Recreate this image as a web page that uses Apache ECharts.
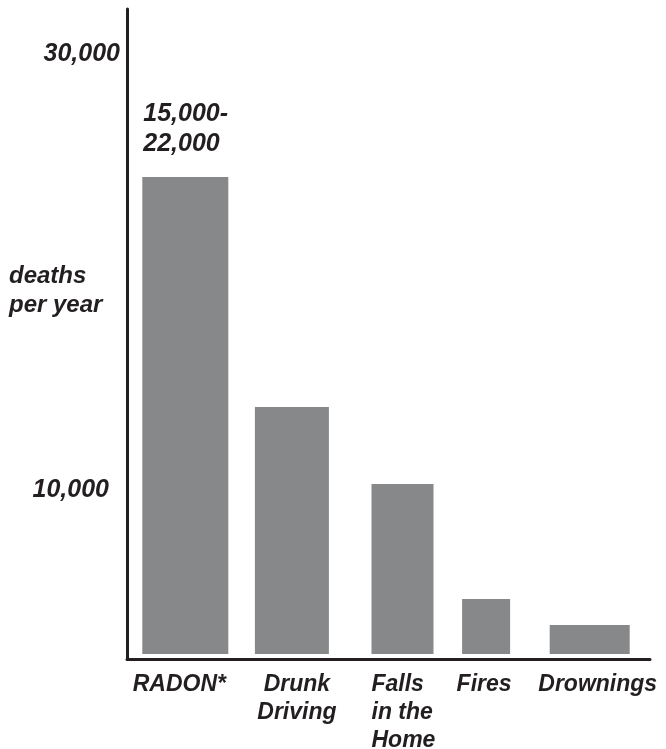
<!DOCTYPE html>
<html>
<head>
<meta charset="utf-8">
<script src="https://cdn.jsdelivr.net/npm/echarts@6/dist/echarts.min.js"></script>
<style>
  html, body { margin: 0; padding: 0; background: #ffffff; }
  #chart { width: 666px; height: 749px; }
</style>
</head>
<body>
<div id="chart"></div>
<script>
// ---- data ----
const categories = ['RADON*', 'Drunk\nDriving', 'Falls\nin the\nHome', 'Fires', 'Drownings'];
const deathsPerYear = [23850, 12350, 8500, 2750, 1450];
const barLabels = ['15,000-\n22,000', '', '', '', ''];
const yTickValues = [8175, 30000];
const yTickLabels = ['10,000', '30,000'];
const yAxisTitle = 'deaths\nper year';

// ---- layout / style (not data) ----
const barWidths = [86, 74, 62, 48, 80];
const barOffsets = [6, 8, 14, -7, -8];
const labelStyles = [
  { align: 'center', padding: [0, 0, 0, 0] },
  { align: 'center', padding: [0, 0, 0, 26] },
  { align: 'left', padding: [0, 0, 0, -17] },
  { align: 'center', padding: [0, 18, 0, 0] },
  { align: 'center', padding: [0, 0, 0, 0] }
];
const ink = '#231f20';
const barColor = '#87888a';
const fam = '"Liberation Sans", Arial, sans-serif';

const chart = echarts.init(document.getElementById('chart'), null, { renderer: 'canvas' });

const option = {
  backgroundColor: '#ffffff',
  animation: false,
  title: {
    text: yAxisTitle,
    left: 9,
    top: 262,
    padding: 0,
    textStyle: {
      color: ink, fontFamily: fam, fontSize: 24, fontWeight: 'bold', fontStyle: 'italic', lineHeight: 29
    }
  },
  grid: { left: 127, right: 16, top: 9, bottom: 90, containLabel: false, outerBoundsMode: 'none' },
  xAxis: {
    type: 'category',
    data: categories.map((c, i) => ({ value: c, textStyle: labelStyles[i] })),
    boundaryGap: true,
    axisLine: { onZero: false, lineStyle: { color: ink, width: 3 } },
    axisTick: { show: false },
    splitLine: { show: false },
    axisLabel: {
      interval: 0,
      margin: 12,
      color: ink,
      fontFamily: fam,
      fontSize: 23,
      fontWeight: 'bold',
      fontStyle: 'italic',
      lineHeight: 28,
      verticalAlign: 'top'
    }
  },
  yAxis: {
    type: 'value',
    min: -250,
    max: 32250,
    axisLine: { show: true, lineStyle: { color: ink, width: 3 } },
    axisTick: { show: false },
    splitLine: { show: false },
    axisLabel: {
      customValues: yTickValues,
      margin: 7,
      formatter: function (v) {
        let idx = 0, best = Infinity;
        yTickValues.forEach((t, i) => { if (Math.abs(t - v) < best) { best = Math.abs(t - v); idx = i; } });
        return idx === 0 ? '{a|' + yTickLabels[idx] + '}' : '{b|' + yTickLabels[idx] + '}';
      },
      rich: {
        a: { color: ink, fontFamily: fam, fontSize: 25, fontWeight: 'bold', fontStyle: 'italic', padding: [0, 11, 0, 0] },
        b: { color: ink, fontFamily: fam, fontSize: 25, fontWeight: 'bold', fontStyle: 'italic' }
      }
    }
  },
  series: [{
    type: 'custom',
    data: deathsPerYear.map((v, i) => [i, v]),
    encode: { x: 0, y: 1 },
    renderItem: function (params, api) {
      const i = api.value(0);
      const v = api.value(1);
      const top = api.coord([i, v]);
      const base = api.coord([i, 0]);
      const w = barWidths[i];
      const cx = top[0] + barOffsets[i];
      const children = [{
        type: 'rect',
        shape: { x: cx - w / 2, y: top[1], width: w, height: base[1] - top[1] },
        style: { fill: barColor }
      }];
      if (barLabels[i]) {
        children.push({
          type: 'text',
          x: cx - w / 2 + 1,
          y: top[1] - 18,
          style: {
            text: barLabels[i],
            fill: ink,
            fontFamily: fam,
            fontSize: 25,
            fontWeight: 'bold',
            fontStyle: 'italic',
            lineHeight: 30,
            align: 'left',
            verticalAlign: 'bottom'
          }
        });
      }
      return { type: 'group', children: children };
    }
  }]
};

chart.setOption(option);
</script>
</body>
</html>
